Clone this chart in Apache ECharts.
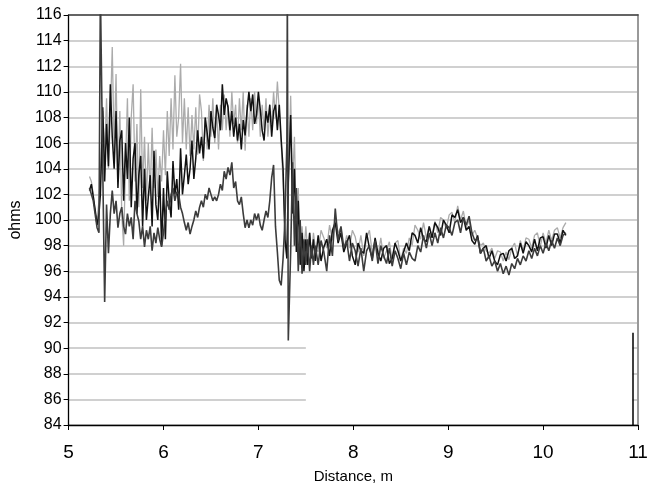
<!DOCTYPE html>
<html><head><meta charset="utf-8">
<script src="https://cdn.jsdelivr.net/npm/echarts@6/dist/echarts.min.js"></script>
<style>html,body{margin:0;padding:0;background:#fff}#c{width:653px;height:489px}</style>
</head><body><div id="c"></div>
<script>
// Distance (m) sample positions
const distanceWild = [5.22,5.24,5.26,5.28,5.30,5.32,5.335,5.345,5.36,5.38,
5.40,5.42,5.44,5.46,5.48,5.50,5.52,5.54,5.56,5.58,
5.60,5.62,5.64,5.66,5.68,5.70,5.72,5.74,5.76,5.78,
5.80,5.82,5.84,5.86,5.88,5.90,5.92,5.94,5.96,5.98,
6.00,6.02,6.04,6.06,6.08,6.10,6.12,6.14,6.16,6.18,
6.20,6.22,6.24,6.26,6.28,6.30,6.32,6.34,6.36,6.38,
6.40,6.42,6.44,6.46,6.48,6.50,6.52,6.54,6.56,6.58,
6.60,6.62,6.64,6.66,6.68,6.70,6.72,6.74,6.76,6.78,
6.80,6.82,6.84,6.86,6.88,6.90,6.92,6.94,6.96,6.98,
7.00,7.02,7.04,7.06,7.08,7.10,7.12,7.14,7.16,7.18,
7.20,7.22,7.24,7.26,7.28,7.30,7.305,7.315,7.34,7.36,
7.38,7.40,7.42,7.44,7.46,7.48,7.50,7.52,7.54,7.56,
7.58,7.60];
const distanceCalm = [7.63,7.66,7.69,7.72,7.75,7.78,7.81,7.84,7.87,7.90,
7.93,7.96,7.99,8.02,8.05,8.08,8.11,8.14,8.17,8.20,
8.23,8.26,8.29,8.32,8.35,8.38,8.41,8.44,8.47,8.50,
8.53,8.56,8.59,8.62,8.65,8.68,8.71,8.74,8.77,8.80,
8.83,8.86,8.89,8.92,8.95,8.98,9.01,9.04,9.07,9.10,
9.13,9.16,9.19,9.22,9.25,9.28,9.31,9.34,9.37,9.40,
9.43,9.46,9.49,9.52,9.55,9.58,9.61,9.64,9.67,9.70,
9.73,9.76,9.79,9.82,9.85,9.88,9.91,9.94,9.97,10.00,
10.03,10.06,10.09,10.12,10.15,10.18,10.21,10.24];

// Light grey trace (ohms)
const greyWild = [103.4,103.0,102.0,100.6,100.0,101.5,103.5,105.5,108.5,105.0,
109.5,104.0,108.0,113.5,105.5,111.4,103.0,108.5,100.5,98.0,
104.5,109.5,101.5,108.0,110.6,103.0,107.5,101.0,110.2,102.5,
106.5,101.5,106.0,102.0,107.2,102.5,105.5,101.8,105.0,103.0,
107.0,103.5,108.5,105.0,109.5,105.5,111.3,106.5,108.0,112.2,
106.0,109.5,105.5,108.8,105.0,108.2,105.5,108.8,105.1,109.8,
108.5,104.6,108.0,105.5,109.0,106.5,109.5,106.0,108.5,105.5,
109.0,107.0,109.8,107.0,109.0,106.5,110.0,107.5,109.0,106.0,
109.5,107.0,110.0,105.4,109.0,106.5,109.5,107.0,110.0,107.5,
109.5,106.5,109.0,107.0,109.5,106.5,108.5,107.5,110.0,108.0,
110.8,108.5,106.0,103.0,99.5,97.0,98.5,102.0,109.7,103.0,
106.5,99.0,102.5,97.0,99.5,97.5,99.5,97.5,99.0,97.0,
99.0,97.8];
const greyCalm = [97.5,99.2,98.6,97.8,99.6,98.4,100.2,99.0,99.4,97.6,
98.8,97.8,99.2,98.7,97.5,98.8,97.2,98.6,99.2,97.4,
98.5,97.2,98.6,97.0,97.6,98.3,96.8,98.2,98.4,96.8,
97.8,97.4,98.6,98.0,99.6,99.2,98.5,99.8,98.6,99.5,
98.8,99.9,99.0,100.2,100.0,99.3,100.4,100.6,99.8,101.1,
100.0,100.7,99.4,100.0,98.8,99.2,98.6,98.0,98.2,97.6,
97.4,97.8,97.0,97.6,97.5,96.8,97.5,96.9,97.8,98.2,
97.2,98.4,97.6,98.6,98.5,97.8,98.8,99.0,97.9,99.0,
98.2,99.2,98.4,99.2,99.4,98.6,99.4,99.8];

// Black trace (ohms)
const blackWild = [102.3,102.8,101.8,100.8,99.6,100.5,102.0,104.5,108.8,103.0,
107.5,104.2,110.6,106.5,104.0,108.5,102.5,106.2,107.0,101.5,
106.0,103.2,108.0,101.0,104.8,106.0,100.5,103.5,105.0,99.5,
104.0,100.0,101.8,103.5,99.5,105.4,101.2,100.0,103.5,98.0,
102.5,98.5,103.8,101.5,100.2,104.6,102.0,103.2,100.8,105.6,
102.0,103.5,105.1,102.8,104.0,106.2,103.2,104.8,107.0,105.2,
106.5,104.8,108.0,106.8,105.5,108.5,107.2,106.4,109.0,108.2,
107.0,110.6,108.2,109.5,108.8,107.0,108.5,106.5,108.0,106.2,
107.5,105.5,107.8,106.6,108.5,110.0,108.5,109.8,107.5,108.2,
110.0,108.6,107.0,106.2,108.5,107.6,109.0,106.5,108.5,109.0,
107.0,109.0,106.3,104.0,98.5,97.0,99.0,103.0,108.2,100.5,
104.0,97.5,101.5,96.5,99.0,96.0,98.5,96.5,99.0,97.0,
98.5,96.8];
const blackCalm = [98.8,96.8,97.9,98.5,97.2,99.2,99.8,98.2,99.0,97.5,
98.2,98.8,97.2,96.5,98.2,97.6,97.4,99.0,97.8,97.0,
98.6,97.4,96.8,97.8,98.0,96.6,97.0,98.2,97.6,96.8,
97.5,98.2,97.6,99.0,98.8,98.2,99.4,98.5,98.3,99.5,
98.6,99.8,99.4,98.8,100.0,99.6,99.0,100.4,100.2,100.8,
99.8,100.2,99.2,99.5,98.4,98.1,98.8,97.4,97.8,98.0,
97.0,97.6,96.8,96.5,97.3,97.4,96.8,97.6,97.8,97.0,
97.2,98.2,97.4,98.3,98.0,97.5,98.5,97.6,98.6,98.7,
97.8,98.8,98.0,98.9,98.9,98.2,99.2,98.8];

// Dark grey trace (ohms)
const darkWild = [102.5,102.0,101.5,101.5,99.4,99.0,118,118,104.0,93.6,
101.2,97.4,100.5,102.3,100.5,101.5,99.4,100.5,101.0,99.5,
98.9,100.5,99.5,100.2,98.5,101.5,100.5,99.9,98.5,99.5,
97.9,99.2,98.5,99.5,97.6,99.0,98.2,99.4,98.5,97.9,
99.0,100.5,101.5,100.8,102.0,102.5,101.5,102.2,102.0,101.0,
100.5,99.8,99.2,99.8,98.9,99.5,100.0,100.7,100.2,101.0,
101.5,101.0,102.0,101.6,102.5,102.0,101.5,101.8,101.5,102.0,
102.8,102.3,103.8,103.2,104.1,103.5,104.5,102.5,103.0,101.5,
101.2,101.8,100.5,99.4,100.0,99.4,100.0,99.6,100.5,100.0,
100.5,99.6,99.2,100.0,100.7,100.2,101.5,103.3,104.3,99.5,
97.5,95.3,94.9,97.0,100.0,106.0,118,90.6,97.5,104.5,
98.0,102.5,96.0,100.0,95.8,98.5,96.5,98.5,96.0,98.0,
96.5,98.0];
const darkCalm = [96.5,98.4,97.5,96.0,98.8,97.2,100.9,98.4,99.5,97.8,
98.4,96.8,98.2,97.6,96.4,97.8,96.0,97.6,98.0,96.8,
98.4,96.6,98.0,97.2,96.6,97.8,96.4,97.6,97.0,96.2,
97.4,96.5,97.5,97.0,96.8,98.0,97.5,98.8,97.8,99.0,
98.0,99.0,98.2,99.4,98.6,99.6,99.4,98.8,99.8,100.0,
99.0,100.2,99.6,100.3,99.0,98.4,98.6,97.4,97.8,96.8,
97.2,96.4,96.8,96.0,96.6,95.8,96.4,95.7,96.6,96.2,
97.0,96.5,97.2,96.8,97.6,97.0,97.8,97.2,98.0,97.4,
98.2,97.6,98.4,97.8,98.6,98.0,98.8,99.0];

const distance = distanceWild.concat(distanceCalm);
const grey = greyWild.concat(greyCalm);
const black = blackWild.concat(blackCalm);
const dark = darkWild.concat(darkCalm);

function pairs(xs, ys){ const n=Math.min(xs.length, ys.length); const out=[]; for(let i=0;i<n;i++) out.push([xs[i], ys[i]]); return out; }

const chart = echarts.init(document.getElementById('c'), null, {renderer:'canvas'});
const font = 'Liberation Sans, Arial, sans-serif';
chart.setOption({
  animation:false,
  backgroundColor:'#fff',
  grid:{left:64, right:15, top:15, bottom:62},
  xAxis:[{
    type:'value', min:5, max:11, interval:1,
    axisLine:{show:true, onZero:false, lineStyle:{color:'#000', width:1.3}},
    axisTick:{show:true, length:5, lineStyle:{color:'#000'}},
    axisLabel:{color:'#000', fontSize:19, margin:18, fontFamily:font},
    splitLine:{show:false},
    name:'Distance, m', nameLocation:'middle', nameGap:44,
    nameTextStyle:{color:'#000', fontSize:15, fontFamily:font}
  },{
    type:'value', position:'top', min:5, max:11, interval:1,
    axisLine:{show:true, onZero:false, lineStyle:{color:'#404040', width:1.5}},
    axisTick:{show:false}, axisLabel:{show:false}, splitLine:{show:false}
  }],
  yAxis:[{
    type:'value', min:84, max:116, interval:2,
    axisLine:{show:true, onZero:false, lineStyle:{color:'#000', width:1.3}},
    axisTick:{show:true, length:5, lineStyle:{color:'#000'}},
    axisLabel:{color:'#000', fontSize:16, margin:7, fontFamily:font},
    splitLine:{show:true, lineStyle:{color:'#c0c0c0', width:1.5}},
    name:'ohms', nameLocation:'middle', nameGap:38, nameRotate:90,
    nameTextStyle:{color:'#000', fontSize:16, fontFamily:font}
  },{
    type:'value', position:'right', min:84, max:116, interval:2,
    axisLine:{show:true, onZero:false, lineStyle:{color:'#999', width:2}},
    axisTick:{show:false}, axisLabel:{show:false}, splitLine:{show:false}
  }],
  series:[
    {type:'line', name:'grey', data:pairs(distance, grey), showSymbol:false, symbol:'none',
     lineStyle:{color:'#ababab', width:1.3}, itemStyle:{color:'#ababab'}, silent:true,
     markArea:{silent:true, itemStyle:{color:'#ffffff', opacity:1},
       data:[[{coord:[7.5, 84.15]}, {coord:[10.944, 91.2]}]]},
     markLine:{silent:true, symbol:['none','none'], label:{show:false},
       lineStyle:{color:'#000', width:1.5, type:'solid'},
       data:[[{coord:[10.944, 84]}, {coord:[10.944, 91.2]}]]}
    },
    {type:'line', name:'black', data:pairs(distance, black), showSymbol:false, symbol:'none',
     lineStyle:{color:'#111', width:1.5}, itemStyle:{color:'#111'}, silent:true},
    {type:'line', name:'dark', data:pairs(distance, dark), showSymbol:false, symbol:'none',
     lineStyle:{color:'#3c3c3c', width:1.6}, itemStyle:{color:'#3c3c3c'}, silent:true}
  ]
});
</script></body></html>
